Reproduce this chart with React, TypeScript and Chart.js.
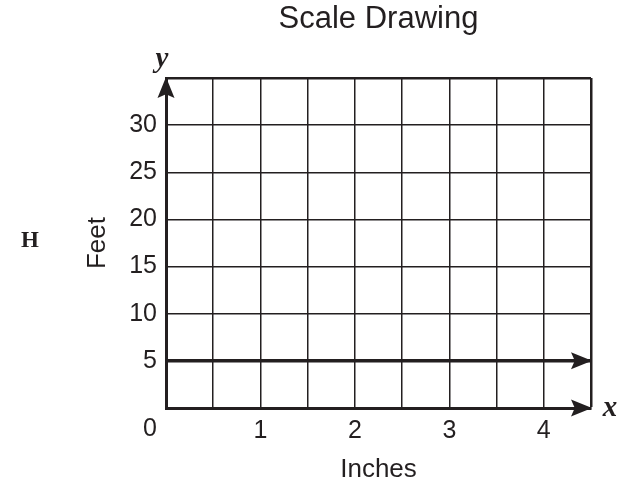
import React, { useEffect, useRef } from 'react';
import { Chart, registerables } from 'chart.js';

Chart.register(...registerables);

const chartTitle = 'Scale Drawing';
const xAxisTitle = 'Inches';
const yAxisTitle = 'Feet';
const sideLabel = 'H';
const xAxisName = 'x';
const yAxisName = 'y';
const originLabel = '0';
const xMin = 0;
const xMax = 4.5;
const yMin = 0;
const yMax = 35;
const xStep = 0.5;
const yStep = 5;
const xTickLabels = [1, 2, 3, 4];
const yTickLabels = [5, 10, 15, 20, 25, 30];
const lineXValues = [0, 4.5];
const lineYValues = [5, 5];

const SANS = '"Liberation Sans", Arial, Helvetica, sans-serif';
const SERIF = '"Liberation Serif", "Times New Roman", serif';
const INK = '#231f20';

function arrowHead(ctx: CanvasRenderingContext2D, tipX: number, tipY: number, dir: 'right' | 'up') {
  const len = 21;
  const half = 8.5;
  ctx.save();
  ctx.fillStyle = INK;
  ctx.beginPath();
  if (dir === 'right') {
    ctx.moveTo(tipX, tipY);
    ctx.lineTo(tipX - len, tipY - half);
    ctx.lineTo(tipX - len * 0.82, tipY);
    ctx.lineTo(tipX - len, tipY + half);
  } else {
    ctx.moveTo(tipX, tipY);
    ctx.lineTo(tipX - half, tipY + len);
    ctx.lineTo(tipX, tipY + len * 0.82);
    ctx.lineTo(tipX + half, tipY + len);
  }
  ctx.closePath();
  ctx.fill();
  ctx.restore();
}

const decorPlugin = {
  id: 'decor',
  afterDraw(chart: any) {
    const ctx: CanvasRenderingContext2D = chart.ctx;
    const xs = chart.scales.x;
    const ys = chart.scales.y;
    const x0 = xs.getPixelForValue(xMin);
    const x1 = xs.getPixelForValue(xMax);
    const y0 = ys.getPixelForValue(yMin);
    const y1 = ys.getPixelForValue(yMax);
    // axis arrows
    arrowHead(ctx, x1 + 1, y0, 'right');
    arrowHead(ctx, x0, y1 - 1, 'up');
    // line arrow
    const last = lineXValues.length - 1;
    arrowHead(ctx, xs.getPixelForValue(lineXValues[last]) + 1, ys.getPixelForValue(lineYValues[last]), 'right');

    ctx.save();
    ctx.fillStyle = INK;
    ctx.textAlign = 'center';
    ctx.textBaseline = 'middle';
    ctx.font = `25px ${SANS}`;
    ctx.fillText(originLabel, x0 - 16, y0 + 21);
    ctx.font = `italic bold 29px ${SERIF}`;
    ctx.fillText(xAxisName, x1 + 19, y0 + 1);
    ctx.fillText(yAxisName, x0 - 4, y1 - 18);
    ctx.font = `bold 23px ${SERIF}`;
    ctx.fillText(sideLabel, 30, (chart.chartArea.top + chart.chartArea.bottom) / 2 - 2);
    ctx.restore();
  },
};

export default function App() {
  const canvasRef = useRef<HTMLCanvasElement | null>(null);

  useEffect(() => {
    if (!canvasRef.current) return;
    const chart = new Chart(canvasRef.current, {
      type: 'scatter',
      data: {
        datasets: [
          {
            data: lineXValues.map((x, i) => ({ x, y: lineYValues[i] })),
            showLine: true,
            borderColor: INK,
            borderWidth: 3.5,
            pointRadius: 0,
            pointHoverRadius: 0,
            fill: false,
          },
        ],
      },
      options: {
        animation: false,
        responsive: false,
        events: [],
        layout: { padding: { left: 0, right: 38, top: 0, bottom: 0 } },
        plugins: {
          legend: { display: false },
          tooltip: { enabled: false },
          title: {
            display: true,
            text: chartTitle,
            fullSize: false,
            color: INK,
            font: { family: SANS, size: 31, weight: 'normal' },
            padding: { top: 1, bottom: 39.8 },
          },
        },
        scales: {
          x: {
            type: 'linear',
            min: xMin,
            max: xMax,
            afterFit: (s: any) => {
              s.height = 77;
            },
            ticks: {
              stepSize: xStep,
              autoSkip: false,
              maxRotation: 0,
              color: INK,
              padding: 8,
              font: { family: SANS, size: 25 },
              callback: (v: any) => (xTickLabels.includes(Number(v)) ? String(v) : ''),
            },
            grid: {
              color: INK,
              lineWidth: (c: any) => (c.tick && c.tick.value === xMax ? 2.5 : 1.5),
              drawTicks: false,
            },
            border: { display: true, color: INK, width: 3 },
            title: {
              display: true,
              text: xAxisTitle,
              color: INK,
              font: { family: SANS, size: 26 },
              padding: { top: 0, bottom: 0 },
            },
          },
          y: {
            type: 'linear',
            min: yMin,
            max: yMax,
            afterFit: (s: any) => {
              s.width = 166;
            },
            ticks: {
              stepSize: yStep,
              autoSkip: false,
              color: INK,
              padding: 9,
              font: { family: SANS, size: 25 },
              callback: (v: any) => (yTickLabels.includes(Number(v)) ? String(v) : ''),
            },
            grid: {
              color: INK,
              lineWidth: (c: any) => (c.tick && c.tick.value === yMax ? 2.5 : 1.5),
              drawTicks: false,
            },
            border: { display: true, color: INK, width: 3 },
            title: {
              display: true,
              text: yAxisTitle,
              color: INK,
              font: { family: SANS, size: 26 },
              padding: { top: 82.4, bottom: 0 },
            },
          },
        },
      },
      plugins: [decorPlugin],
    });
    return () => chart.destroy();
  }, []);

  return (
    <div style={{ position: 'fixed', left: 0, top: 0, width: 629, height: 485, background: '#fff' }}>
      <canvas ref={canvasRef} width={629} height={485} style={{ display: 'block' }} />
    </div>
  );
}
